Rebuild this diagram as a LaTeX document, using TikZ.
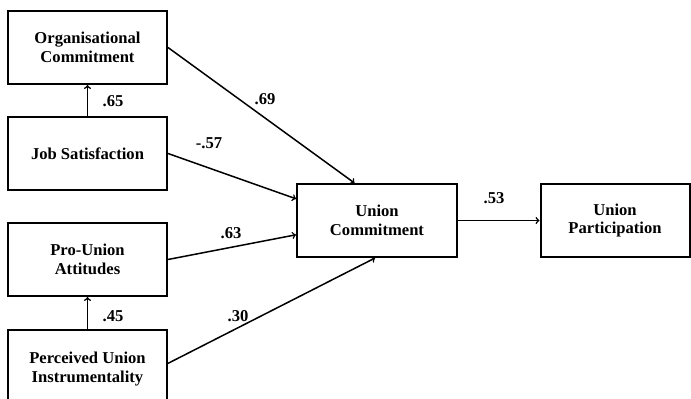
\documentclass[tikz,border=0pt]{standalone}
\usepackage{fontspec}
\setmainfont{Liberation Serif}
\usepackage{tikz}

\tikzset{
  var/.style={draw, line width=2pt, minimum width=159pt, minimum height=73pt,
    align=center, inner sep=2pt, font=\fontsize{16.6}{18.5}\selectfont\bfseries},
  coef/.style={font=\fontsize{16.6}{18.5}\selectfont\bfseries, inner sep=1pt},
  path/.style={->, line width=1.5pt}
}

\begin{document}
\begin{tikzpicture}[x=1pt, y=-1pt]
  \useasboundingbox (0,0) rectangle (691,399);
  \clip (0,0) rectangle (691,399);
  % predictors on the left
  \node[var] (org) at (87.5,47.5) {Organisational\\Commitment};
  \node[var] (job) at (87.5,153.5) {Job Satisfaction};
  \node[var] (pro) at (87.5,259.5) {Pro-Union\\Attitudes};
  \node[var, minimum height=78pt] (pui) at (87.5,369) {Perceived Union\\Instrumentality};
  % outcomes
  \node[var, minimum width=160pt] (uc) at (377,220.5) {Union\\Commitment};
  \node[var, minimum width=149pt] (up) at (615,220.5) {Union\\Participation};

  \draw[path] (job.north) -- (org.south);
  \draw[path] (pui.north) -- (pro.south);
  \draw[path] (org.east) -- (uc.121);
  \draw[path] (job.east) -- (uc.165);
  \draw[path] (pro.east) -- (uc.190);
  \draw[path] (pui.4) -- (uc.267);
  \draw[path] (uc.east) -- (up.west);

  % path coefficients
  \node[coef] (c65) at (113,101) {.65};
  \node[coef] (c45) at (113,316) {.45};
  \node[coef] (c69) at (265,99) {.69};
  \node[coef] (c57) at (209,143) {-.57};
  \node[coef] (c63) at (231,233) {.63};
  \node[coef] (c30) at (238,316) {.30};
  \node[coef] (c53) at (494,198) {.53};
\end{tikzpicture}
\end{document}
